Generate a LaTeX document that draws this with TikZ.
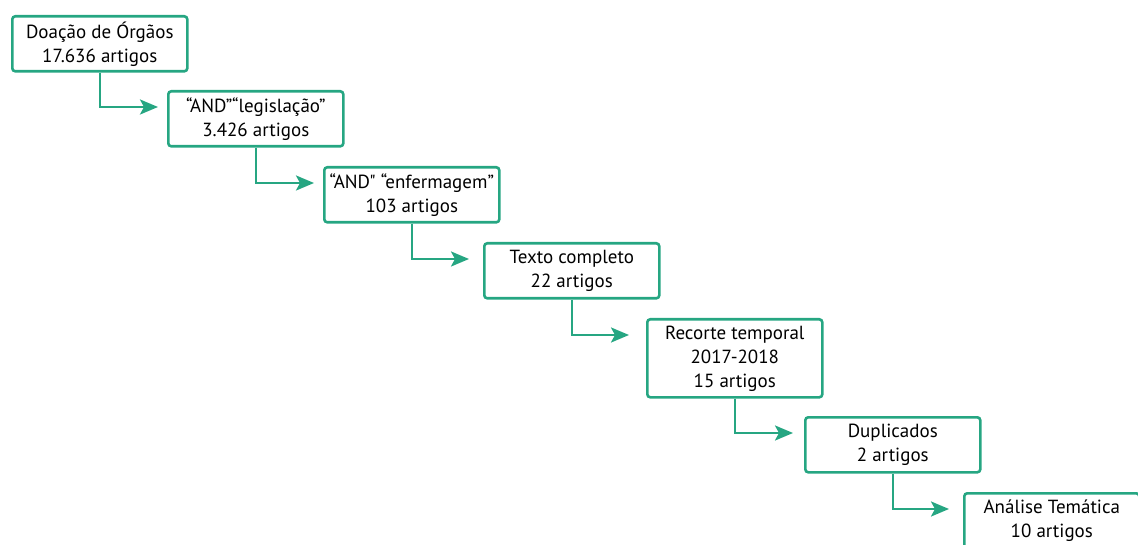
\documentclass[tikz,border=0pt]{standalone}
\usepackage{fontspec}
\setmainfont{PT Sans}[Ligatures=TeXOff]
\usetikzlibrary{arrows.meta}

\definecolor{verde}{RGB}{38,166,130}

\tikzset{
  caixa/.style={draw=verde, line width=2.6pt, rounded corners=3pt,
    minimum width=175pt, minimum height=55pt, inner sep=0pt,
    align=center, anchor=north west, font=\fontsize{19}{24}\selectfont},
  seta/.style={draw=verde, line width=2.6pt,
    -{Stealth[length=18pt,width=15pt,inset=4pt]}}
}

\begin{document}
\begin{tikzpicture}[x=1pt,y=-1pt]

    \useasboundingbox (0,0) rectangle (1138,545);

    % caixas
    \node[caixa] (doacao) at (11,15) {Doação de Órgãos\\17.636 artigos};
    \node[caixa] (legis) at (167,90) {“AND”“legislação”\\3.426 artigos};
    \node[caixa] (enferm) at (323,166) {“AND" “enfermagem”\\103 artigos};
    \node[caixa] (texto) at (483,242) {Texto completo\\22 artigos};
    \node[caixa, minimum height=78pt] (recorte) at (646,318) {Recorte temporal\\2017-2018\\15 artigos};
    \node[caixa] (dupl) at (804,416) {Duplicados\\2 artigos};
    \node[caixa] (analise) at (963,492) {Análise Temática\\10 artigos};

    % setas
	\draw[seta] (doacao.south) |- ([xshift=-9pt,yshift=-17pt]legis.north west);
	\draw[seta] (legis.south) |- ([xshift=-9pt,yshift=-17pt]enferm.north west);
	\draw[seta] (enferm.south) |- ([xshift=-14pt,yshift=-17pt]texto.north west);
	\draw[seta] (texto.south) |- ([xshift=-17pt,yshift=-17pt]recorte.north west);
	\draw[seta] (recorte.south) |- ([xshift=-11pt,yshift=-17pt]dupl.north west);
	\draw[seta] (dupl.south) |- ([xshift=-14pt,yshift=-17pt]analise.north west);

\end{tikzpicture}
\end{document}
